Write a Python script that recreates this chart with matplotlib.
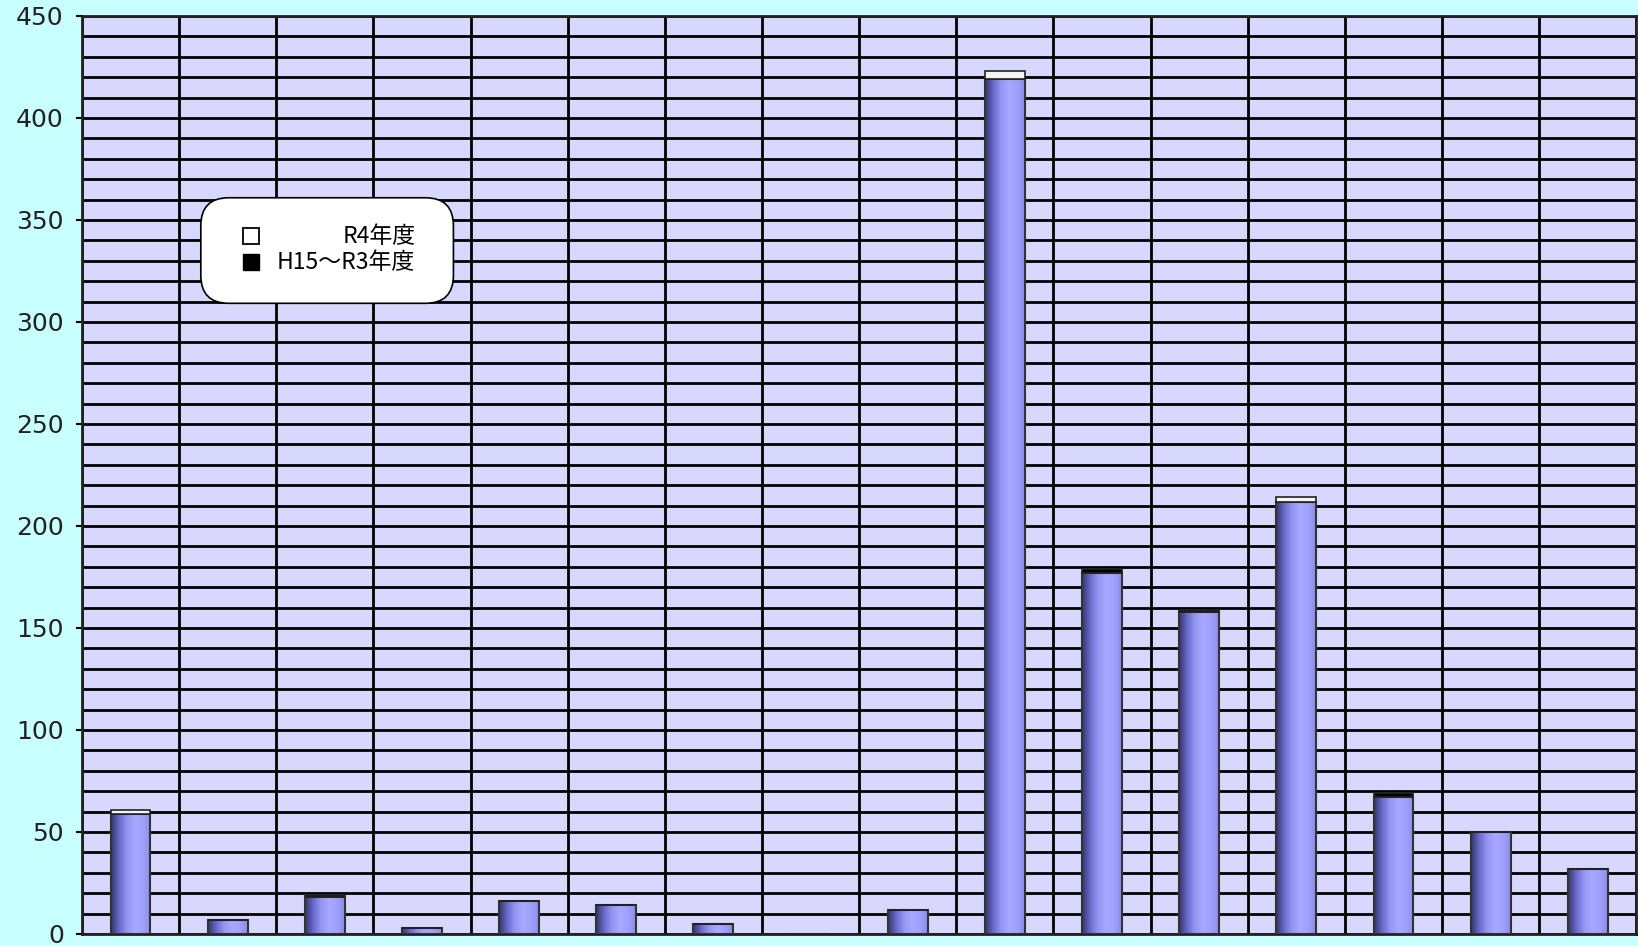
import numpy as np
import matplotlib.pyplot as plt
from matplotlib.patches import FancyBboxPatch
from matplotlib.colors import LinearSegmentedColormap

plt.rcParams['font.family'] = ['Noto Sans CJK JP', 'DejaVu Sans']

# values (16 categories, no x labels)
base = [59, 7, 18, 3, 16, 14, 5, 0, 12, 419, 177, 158, 212, 67, 50, 32]
h15_r3 = [0, 0, 1, 0, 0, 0, 0, 0, 0, 0, 2, 1, 0, 2, 0, 0]
r4 = [2, 0, 0, 0, 0, 0, 0, 0, 0, 4, 0, 0, 2, 0, 0, 0]
labels = ['R4年度', 'H15～R3年度']
yticks = [0, 50, 100, 150, 200, 250, 300, 350, 400, 450]

fig = plt.figure(figsize=(16.38, 9.46), dpi=100)
fig.patch.set_facecolor('#c8ffff')
ax = fig.add_axes([0.05, 0.0127, 0.949, 0.9704])
ax.set_facecolor('#d8d8ff')

x = np.arange(len(base))
w = 0.41

# cylinder-like shading
cmap = LinearSegmentedColormap.from_list(
    'cyl', ['#34346c', '#6868c8', '#9494f4', '#a8a8ff', '#a0a0ff', '#8c8ce8'])
grad = np.linspace(0, 1, 256).reshape(1, -1)
for xi, b in zip(x, base):
    if b <= 0:
        continue
    ax.imshow(grad, cmap=cmap, aspect='auto', extent=[xi - w/2, xi + w/2, 0, b],
              zorder=3, interpolation='bilinear')
ax.bar(x, base, w, fill=False, edgecolor='#333333', linewidth=1.5, zorder=4)
b2 = np.array(base)
ax.bar(x, h15_r3, w, bottom=b2, color='black', edgecolor='#222222', linewidth=1.2, zorder=4)
b3 = b2 + np.array(h15_r3)
ax.bar(x, r4, w, bottom=b3, color='#f4f4f0', edgecolor='#222222', linewidth=1.2, zorder=4)

ax.set_xlim(-0.5, len(base) - 0.5)
ax.set_ylim(0, 450)
ax.set_yticks(yticks)
ax.set_yticklabels([str(v) for v in yticks], fontfamily='DejaVu Sans', fontsize=18,
                   color='#222222')
ax.set_yticks(np.arange(0, 451, 10), minor=True)
ax.set_xticks([])
ax.set_xticks(np.arange(-0.5, len(base)), minor=True)
ax.grid(True, which='both', color='black', linewidth=2, zorder=1)
ax.set_axisbelow(True)
ax.tick_params(axis='y', which='major', length=4, width=1.5, pad=9)
ax.tick_params(axis='both', which='minor', length=0)
ax.tick_params(axis='x', which='both', length=0)
for s in ax.spines.values():
    s.set_linewidth(2)
    s.set_color('#222222')

# legend box
box = FancyBboxPatch((0.0765, 0.687), 0.1625, 0.115, transform=ax.transAxes,
                     boxstyle='round,pad=0,rounding_size=0.018',
                     facecolor='white', edgecolor='black', linewidth=1.2,
                     zorder=6, mutation_aspect=1.7)
ax.add_patch(box)
ax.plot([0.1086], [0.760], marker='s', markersize=11, markerfacecolor='white',
        markeredgecolor='black', markeredgewidth=1.3, transform=ax.transAxes, zorder=7)
ax.plot([0.1086], [0.732], marker='s', markersize=11, markerfacecolor='black',
        markeredgecolor='black', transform=ax.transAxes, zorder=7)
ax.text(0.2145, 0.760, labels[0], transform=ax.transAxes, ha='right', va='center',
        fontsize=16.5, zorder=7)
ax.text(0.2145, 0.732, labels[1], transform=ax.transAxes, ha='right', va='center',
        fontsize=16.5, zorder=7)

fig.savefig('out.png', dpi=100, facecolor=fig.get_facecolor())
